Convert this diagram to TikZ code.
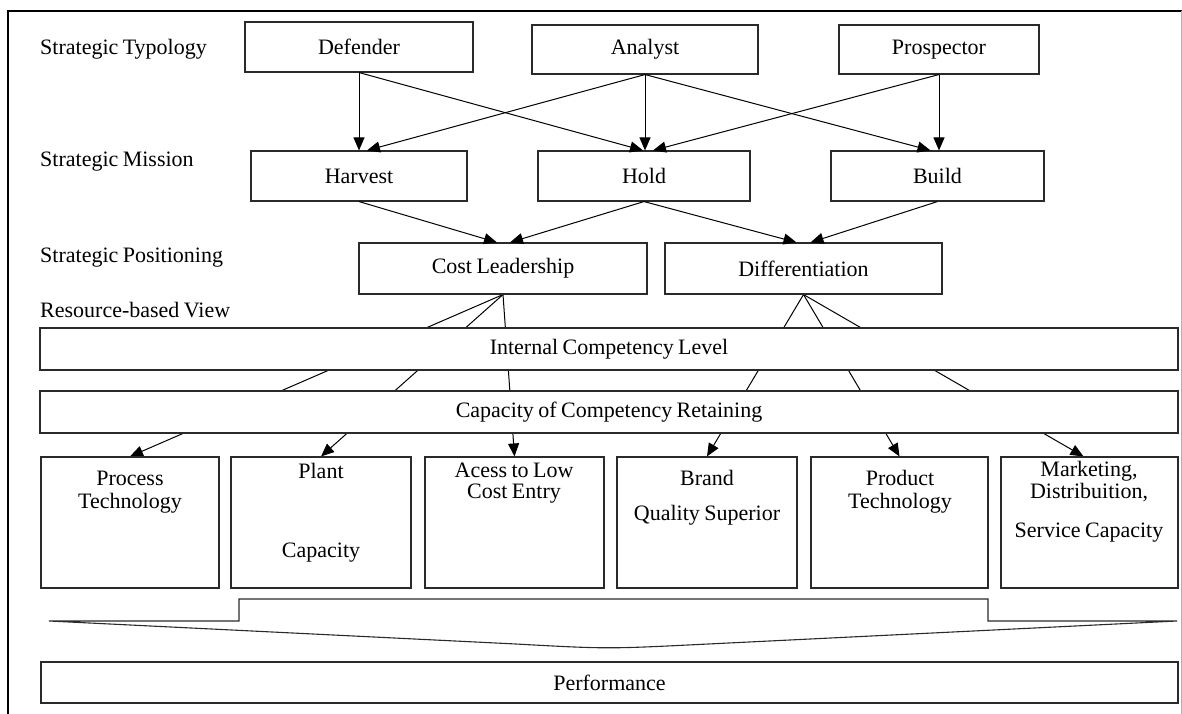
\documentclass[tikz,border=0pt]{standalone}
\usepackage{fontspec}
\setmainfont{Liberation Serif}[WordSpace=0.8]
\usetikzlibrary{arrows.meta}
\pgfdeclarelayer{behind}
\pgfsetlayers{behind,main}
\definecolor{edge}{HTML}{2A2A2A}
\begin{document}
\begin{tikzpicture}[x=1pt,y=-1pt,
  font=\fontsize{22}{25}\selectfont,
  box/.style={draw=edge, fill=white, line width=1.1pt, inner sep=0pt, align=center},
  wh/.style 2 args={minimum width=#1pt, minimum height=#2pt},
  side/.style={anchor=base west, inner sep=0pt},
  txt/.style={anchor=base, inner sep=0pt},
  arr/.style={draw=black, line width=1pt, -{Triangle[length=13pt,width=11pt]}}]
\useasboundingbox (0,0) rectangle (1182,714);

% outer frame
\draw[black, line width=1.3pt] (8,714) -- (8,11) -- (1182,11);
\draw[gray!60, line width=0.6pt] (1181,11) -- (1181,714);

% row labels
\node[side] (lt) at (40,55) {Strategic Typology};
\node[side] (lm) at (40,167) {Strategic Mission};
\node[side] (lp) at (40,262) {Strategic Positioning};
\node[side] (lr) at (40,317) {Resource-based View};

% strategic typology
\node[box, wh={228}{50}] (def) at (359,47) {Defender};
\node[box, wh={226}{49}] (ana) at (645,49.5) {Analyst};
\node[box, wh={200}{49}] (pro) at (939,49.5) {Prospector};

% strategic mission
\node[box, wh={216}{50}] (har) at (359,176) {Harvest};
\node[box, wh={212}{50}] (hol) at (644,176) {Hold};
\node[box, wh={213}{50}] (bui) at (937.5,176) {Build};

% strategic positioning
\node[box, wh={288}{51}] (cost) at (503,268.5) {Cost Leadership};
\node[box, wh={277}{51}] (diff) at (803.5,268.5) {Differentiation};

% resource-based view
\node[box, wh={1138}{42}] (icl) at (609,349) {Internal Competency Level};
\node[box, wh={1138}{42}] (ccr) at (609,412) {Capacity of Competency Retaining};

% resources
\node[box, wh={178}{131}] (proc) at (130,522.5) {};
\node[box, wh={180}{131}] (plant) at (321,522.5) {};
\node[box, wh={179}{131}] (acc) at (514.5,522.5) {};
\node[box, wh={180}{131}] (brand) at (707,522.5) {};
\node[box, wh={177}{131}] (prod) at (899.5,522.5) {};
\node[box, wh={177}{131}] (mkt) at (1089.5,522.5) {};

\node[txt] (proc1) at (130,485) {Process};
\node[txt] (proc2) at (130,508) {Technology};
\node[txt] (plant1) at (321,478) {Plant};
\node[txt] (plant2) at (321,557) {Capacity};
\node[txt] (acc1) at (514,477) {Acess to Low};
\node[txt] (acc2) at (514,498) {Cost Entry};
\node[txt] (brand1) at (707,485) {Brand};
\node[txt] (brand2) at (707,520) {Quality Superior};
\node[txt] (prod1) at (900,485) {Product};
\node[txt] (prod2) at (900,508) {Technology};
\node[txt] (mkt1) at (1089,476) {Marketing,};
\node[txt] (mkt2) at (1089,498) {Distribuition,};
\node[txt] (mkt3) at (1089,537) {Service Capacity};

% performance
\node[box, wh={1137}{41}] (perf) at (609.5,682.5) {Performance};

% typology -> mission
\draw[arr] (def.south) -- (har.north);
\draw[arr] (def.south) -- ([xshift=-1pt]hol.north);
\draw[arr] (ana.south) -- ([xshift=8pt]har.north);
\draw[arr] (ana.south) -- ([xshift=1pt]hol.north);
\draw[arr] (ana.south) -- ([xshift=-7pt]bui.north);
\draw[arr] (pro.south) -- ([xshift=9pt]hol.north);
\draw[arr] (pro.south) -- ([xshift=1.5pt]bui.north);

% mission -> positioning
\draw[arr] (har.south) -- ([xshift=-6pt]cost.north);
\draw[arr] (hol.south) -- ([xshift=7pt]cost.north);
\draw[arr] (hol.south) -- ([xshift=-7pt]diff.north);
\draw[arr] (bui.south) -- ([xshift=7pt]diff.north);

% positioning -> resources, passing behind the competency bars
\begin{pgfonlayer}{behind}
\draw[arr] (cost.south) -- (proc.north);
\draw[arr] (cost.south) -- (plant.north);
\draw[arr] (cost.south) -- (acc.north);
\draw[arr] (diff.south) -- (brand.north);
\draw[arr] (diff.south) -- (prod.north);
\draw[arr] (diff.south) -- ([xshift=-6pt]mkt.north);
\end{pgfonlayer}

% converging bracket towards performance
\draw[draw=edge, line width=1.1pt, line join=miter]
  (49,621) -- (239,621) -- (239,599) -- (988,599) -- (988,621) -- (1177,621)
  -- (700,644.4) .. controls (607,649) .. (514,643.9) -- cycle;

\end{tikzpicture}
\end{document}
